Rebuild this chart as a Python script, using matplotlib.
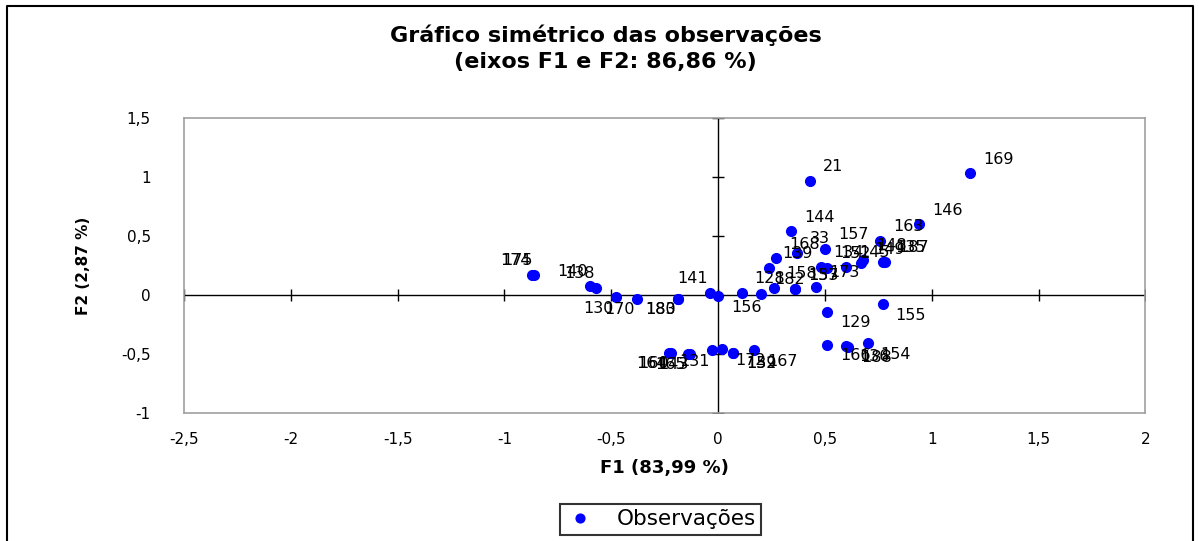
import matplotlib.pyplot as plt
from matplotlib.lines import Line2D

# observações (rótulo, F1, F2)
obs_labels = ['174', '175', '140', '138', '130', '170', '180', '183', '141', '156',
              '160', '164', '165', '143', '131', '172', '159', '132', '167',
              '166', '136', '188', '154', '129', '155',
              '128', '182', '158', '153', '137', '173', '139', '168', '33', '144',
              '157', '134', '152', '145', '149', '148', '135', '187', '163', '146',
              '21', '169']
f1 = [-0.87, -0.86, -0.60, -0.57, -0.48, -0.38, -0.19, -0.19, -0.04, 0.00,
      -0.22, -0.23, -0.14, -0.13, -0.03, 0.02, 0.07, 0.07, 0.17,
      0.51, 0.60, 0.61, 0.70, 0.51, 0.77,
      0.11, 0.20, 0.26, 0.36, 0.36, 0.46, 0.24, 0.27, 0.37, 0.34,
      0.50, 0.48, 0.51, 0.60, 0.67, 0.68, 0.77, 0.78, 0.76, 0.94,
      0.43, 1.18]
f2 = [0.17, 0.17, 0.08, 0.06, -0.02, -0.03, -0.03, -0.03, 0.02, -0.01,
      -0.49, -0.49, -0.50, -0.50, -0.47, -0.46, -0.49, -0.49, -0.47,
      -0.42, -0.43, -0.44, -0.41, -0.14, -0.08,
      0.02, 0.01, 0.06, 0.05, 0.05, 0.07, 0.23, 0.31, 0.36, 0.54,
      0.39, 0.24, 0.23, 0.24, 0.27, 0.30, 0.28, 0.28, 0.46, 0.60,
      0.97, 1.03]

x_ticks = [-2.5, -2, -1.5, -1, -0.5, 0, 0.5, 1, 1.5, 2]
y_ticks = [-1, -0.5, 0, 0.5, 1, 1.5]

def virgula(v):
    return ('%g' % v).replace('.', ',')

fig = plt.figure(figsize=(11.99, 5.41), dpi=100)
ax = fig.add_axes([0.1535, 0.2366, 0.8018, 0.5453])

# pontos
ax.plot(f1, f2, ls='none', marker='o', ms=7, color='#0000FF', label='Observações', zorder=3)

# rótulos dos pontos, afastados da origem
for lab, x, y in zip(obs_labels, f1, f2):
    if x >= 0:
        dx, ha = 13, 'left'
    else:
        dx, ha = -2, 'right'
    dy = 14 if y >= 0 else -11
    ax.annotate(lab, (x, y), xytext=(dx, dy), textcoords='offset pixels',
                ha=ha, va='center', fontsize=11.5, color='black', zorder=4)

# eixos cruzando no zero
ax.axhline(0, color='black', lw=1, zorder=2)
ax.axvline(0, color='black', lw=1, zorder=2)
ax.plot(x_ticks, [0] * len(x_ticks), ls='none', marker='|', ms=8, mew=1, color='black')
ax.plot([0] * len(y_ticks), y_ticks, ls='none', marker='_', ms=8, mew=1, color='black')

ax.set_xlim(-2.5, 2)
ax.set_ylim(-1, 1.5)
ax.set_xticks(x_ticks)
ax.set_yticks(y_ticks)
ax.set_xticklabels([virgula(v) for v in x_ticks])
ax.set_yticklabels([virgula(v) for v in y_ticks])
ax.tick_params(length=0, labelsize=11, pad=14)
ax.tick_params(axis='y', pad=24)
for s in ax.spines.values():
    s.set_color('#A0A0A0')
    s.set_linewidth(1.2)

ax.set_xlabel('F1 (83,99 %)', fontsize=13, fontweight='bold', labelpad=8)
ax.set_ylabel('F2 (2,87 %)', fontsize=11, fontweight='bold', labelpad=22)

fig.text(0.505, 0.935, 'Gráfico simétrico das observações', ha='center', va='center',
         fontsize=16, fontweight='bold')
fig.text(0.505, 0.885, '(eixos F1 e F2: 86,86 %)', ha='center', va='center',
         fontsize=16, fontweight='bold')

leg = fig.legend(loc='center', bbox_to_anchor=(0.551, 0.04), fontsize=15.5, fancybox=False,
                 handletextpad=1.0, borderpad=0.25, handlelength=1.4, markerscale=0.9)
leg.get_frame().set_edgecolor('black')
leg.get_frame().set_linewidth(1.5)

# moldura externa
fx0, fx1, fy1 = 7 / 1199, 1193 / 1199, 1 - 6 / 541
fig.add_artist(Line2D([fx0, fx0, fx1, fx1], [-0.01, fy1, fy1, -0.01],
                      transform=fig.transFigure, color='black', lw=1.5))

plt.savefig('out.png', dpi=100)
